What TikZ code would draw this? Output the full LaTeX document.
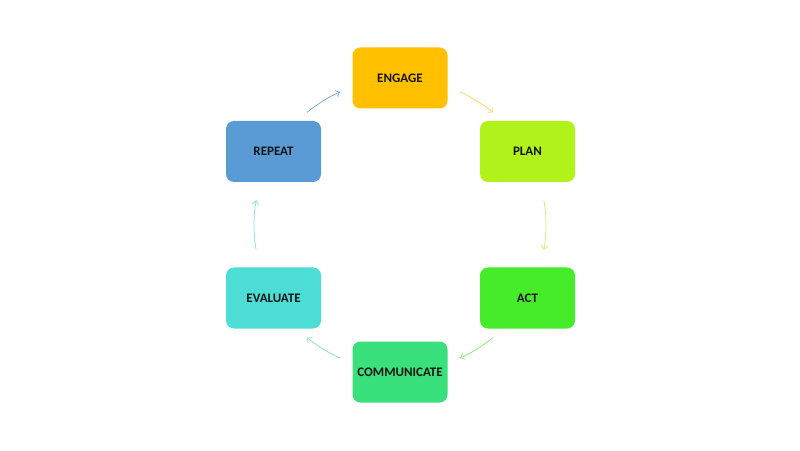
\documentclass[tikz,border=0pt]{standalone}
\usepackage{fontspec}
\setmainfont{Carlito}
\usetikzlibrary{arrows.meta}
\definecolor{cEngage}{HTML}{FFC000}
\definecolor{cPlan}{HTML}{B0F21A}
\definecolor{cAct}{HTML}{46EC2A}
\definecolor{cComm}{HTML}{3AE07C}
\definecolor{cEval}{HTML}{4CDDD5}
\definecolor{cRepeat}{HTML}{5B9BD5}
\definecolor{aEngage}{HTML}{FFD35A}
\definecolor{aPlan}{HTML}{CBF25E}
\definecolor{aAct}{HTML}{80EC6C}
\definecolor{aComm}{HTML}{78E6A6}
\definecolor{aEval}{HTML}{80E2DC}
\definecolor{aRepeat}{HTML}{6FA5D8}
\definecolor{txt}{HTML}{141414}
\begin{document}
\begin{tikzpicture}[x=1pt,y=1pt,
  stepbox/.style={rectangle,rounded corners=8pt,minimum width=95pt,minimum height=61pt,
    draw=none,inner sep=0pt,text=txt,font=\fontsize{13}{15}\selectfont\bfseries},
  cyc/.style={line width=0.7pt,-{Straight Barb[length=3.5pt,width=6.5pt]}}]
\useasboundingbox[fill=white] (0,0) rectangle (800,450);
\node[stepbox,fill=cEngage] (engage) at (400,372) {ENGAGE};
\node[stepbox,fill=cPlan] (plan) at (527.5,298.5) {PLAN};
\node[stepbox,fill=cAct] (act) at (527.5,152) {ACT};
\node[stepbox,fill=cComm] (comm) at (400,78) {COMMUNICATE};
\node[stepbox,fill=cEval] (eval) at (273.5,152) {EVALUATE};
\node[stepbox,fill=cRepeat] (repeat) at (273.5,298.5) {REPEAT};
\coordinate (ctr) at (400,225);
\coordinate (a1) at ([shift={(65.7:146)}]ctr);
\coordinate (a2) at ([shift={(9.8:146)}]ctr);
\coordinate (a3) at ([shift={(-50.5:146)}]ctr);
\coordinate (a4) at ([shift={(-114.3:146)}]ctr);
\coordinate (a5) at ([shift={(189.8:146)}]ctr);
\coordinate (a6) at ([shift={(129.5:146)}]ctr);
\draw[cyc,aEngage] (a1) arc[start angle=65.7,end angle=50.5,radius=146];
\draw[cyc,aPlan] (a2) arc[start angle=9.8,end angle=-9.8,radius=146];
\draw[cyc,aAct] (a3) arc[start angle=-50.5,end angle=-65.7,radius=146];
\draw[cyc,aComm] (a4) arc[start angle=-114.3,end angle=-129.5,radius=146];
\draw[cyc,aEval] (a5) arc[start angle=189.8,end angle=170.2,radius=146];
\draw[cyc,aRepeat] (a6) arc[start angle=129.5,end angle=114.3,radius=146];
\end{tikzpicture}
\end{document}
